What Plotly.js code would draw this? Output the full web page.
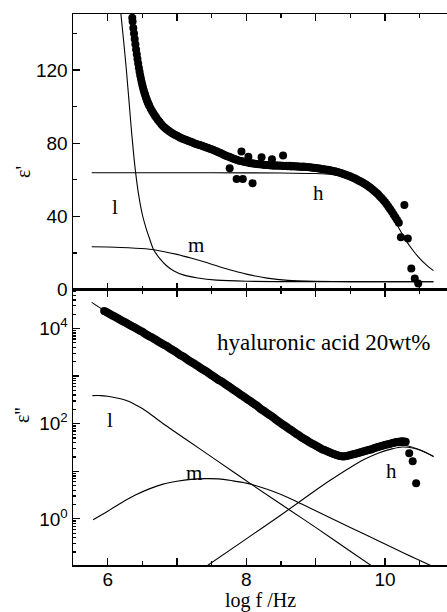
<!DOCTYPE html>
<html>
<head>
<meta charset="utf-8">
<script src="https://cdn.plot.ly/plotly-3.0.1.min.js"></script>
<style>
  html, body { margin: 0; padding: 0; background: #fff; }
  #chart { width: 447px; height: 612px; }
</style>
</head>
<body>
<div id="chart"></div>
<script>
// ---------- top panel: epsilon' measured ----------
const epsRealX = [
  6.355, 6.36, 6.37, 6.38, 6.39, 6.40, 6.41, 6.42, 6.43, 6.44,
  6.45, 6.46, 6.47, 6.48, 6.49, 6.50, 6.51, 6.52, 6.53, 6.54,
  6.55, 6.56, 6.57, 6.58, 6.59, 6.60, 6.62, 6.64, 6.66, 6.68,
  6.70, 6.725, 6.75, 6.775, 6.80, 6.825, 6.85, 6.875, 6.90, 6.925,
  6.95, 6.975, 7.00, 7.025, 7.05, 7.075, 7.10, 7.125, 7.15, 7.175,
  7.20, 7.225, 7.25, 7.275, 7.30, 7.325, 7.35, 7.375, 7.40, 7.425,
  7.45, 7.475, 7.50, 7.525, 7.55, 7.575, 7.60, 7.625, 7.65, 7.675,
  7.70, 7.725, 7.75, 7.775, 7.80, 7.825, 7.85, 7.875, 7.90, 7.925,
  7.95, 7.975, 8.00, 8.025, 8.05, 8.075, 8.10, 8.125, 8.15, 8.175,
  8.20, 8.225, 8.25, 8.275, 8.30, 8.325, 8.35, 8.375, 8.40, 8.425,
  8.45, 8.475, 8.50, 8.525, 8.55, 8.575, 8.60, 8.625, 8.65, 8.675,
  8.70, 8.725, 8.75, 8.775, 8.80, 8.825, 8.85, 8.875, 8.90, 8.925,
  8.95, 8.975, 9.00, 9.025, 9.05, 9.075, 9.10, 9.125, 9.15, 9.175,
  9.20, 9.225, 9.25, 9.275, 9.30, 9.325, 9.35, 9.375, 9.40, 9.425,
  9.45, 9.475, 9.50, 9.525, 9.55, 9.575, 9.60, 9.625, 9.65, 9.675,
  9.70, 9.725, 9.75, 9.775, 9.80, 9.825, 9.85, 9.875, 9.90, 9.925,
  9.95, 9.975, 10.00, 10.025, 10.05, 10.075, 10.10, 10.125, 10.15, 10.175, 10.20
];
const epsRealY = [
  148.5, 146.5, 143, 140, 137, 134, 131.2, 128.6, 126, 123.5,
  121.2, 119, 117, 115.2, 113.4, 111.8, 110.3, 108.9, 107.6, 106.4,
  105.2, 104.1, 103.1, 102.2, 101.3, 100.5, 99, 97.6, 96.3, 95.1,
  94, 92.7, 91.5, 90.4, 89.3, 88.4, 87.6, 86.9, 86.2, 85.6,
  85, 84.5, 84, 83.5, 83, 82.6, 82.2, 81.8, 81.4, 81,
  80.7, 80.3, 80, 79.6, 79.3, 79, 78.7, 78.3, 78, 77.6,
  77.3, 77, 76.6, 76.2, 75.8, 75.4, 75, 74.6, 74.2, 73.7,
  73.3, 72.9, 72.5, 72.1, 71.7, 71.3, 71, 70.7, 70.4, 70.2,
  70, 69.8, 69.6, 69.4, 69.2, 69, 68.9, 68.7, 68.6, 68.5,
  68.4, 68.3, 68.2, 68.1, 68, 68.1, 67.8, 67.9, 67.7, 67.9,
  67.6, 67.8, 67.6, 67.7, 67.5, 67.7, 67.4, 67.6, 67.3, 67.5,
  67.2, 67.4, 67.1, 67.3, 67, 67.2, 66.9, 67, 66.8, 66.8,
  66.6, 66.6, 66.4, 66.3, 66.1, 66, 65.8, 65.7, 65.5, 65.4,
  65.2, 65, 64.8, 64.6, 64.3, 64.1, 63.8, 63.5, 63.2, 62.9,
  62.5, 62.2, 61.8, 61.4, 61, 60.5, 60, 59.5, 59, 58.5,
  58, 57.4, 56.7, 56, 55.3, 54.5, 53.7, 52.9, 52, 51,
  50, 48.9, 47.8, 46.6, 45.3, 43.9, 42.5, 41, 39.5, 38, 36.5
];
// scattered points (top)
const epsRealOutX = [7.76, 7.86, 7.93, 7.95, 8.03, 8.09, 8.22, 8.37, 8.53, 10.23, 10.28, 10.33, 10.38, 10.43, 10.48];
const epsRealOutY = [66.3, 60.4, 75.4, 60.4, 72.6, 58.1, 72.3, 71.2, 73.2, 28.5, 46.2, 27.9, 11.5, 6, 3.3];

// ---------- top panel: fitted components ----------
const fitRealHX = [5.77, 6.5, 7.5, 8.5, 9.0, 9.25, 9.5, 9.75, 9.9, 10.0, 10.1, 10.2, 10.3, 10.4, 10.5, 10.6, 10.7];
const fitRealHY = [63.8, 63.8, 63.8, 63.7, 63.4, 62.8, 61.2, 57.3, 52.3, 47.5, 40.8, 33.6, 27, 21.6, 17, 13.3, 10.3];
const fitRealLX = [6.19, 6.23, 6.27, 6.31, 6.35, 6.40, 6.45, 6.50, 6.55, 6.60, 6.66, 6.75, 6.85, 6.95, 7.09, 7.3, 7.57, 8.0, 9.0, 10.7];
const fitRealLY = [151, 136, 120, 102, 84, 65, 51, 41, 34, 28.3, 22, 17, 13, 10.3, 8, 6.3, 5.1, 4.5, 4.3, 4.2];
const fitRealMX = [5.77, 6.0, 6.3, 6.6, 6.8, 7.0, 7.2, 7.4, 7.6, 7.8, 8.0, 8.3, 8.6, 9.0, 9.5, 10.0, 10.7];
const fitRealMY = [23.4, 23.2, 22.8, 22, 20.8, 19.2, 17.2, 15, 12.6, 10.4, 8.4, 6.2, 5.0, 4.5, 4.3, 4.2, 4.2];

const epsLossX = [
  5.950, 5.975, 6.000, 6.025, 6.050, 6.075, 6.100, 6.125, 6.150, 6.175,
  6.200, 6.225, 6.250, 6.275, 6.300, 6.325, 6.350, 6.375, 6.400, 6.425,
  6.450, 6.475, 6.500, 6.525, 6.550, 6.575, 6.600, 6.625, 6.650, 6.675,
  6.700, 6.725, 6.750, 6.775, 6.800, 6.825, 6.850, 6.875, 6.900, 6.925,
  6.950, 6.975, 7.000, 7.025, 7.050, 7.075, 7.100, 7.125, 7.150, 7.175,
  7.200, 7.225, 7.250, 7.275, 7.300, 7.325, 7.350, 7.375, 7.400, 7.425,
  7.450, 7.475, 7.500, 7.525, 7.550, 7.575, 7.600, 7.625, 7.650, 7.675,
  7.700, 7.725, 7.750, 7.775, 7.800, 7.825, 7.850, 7.875, 7.900, 7.925,
  7.950, 7.975, 8.000, 8.025, 8.050, 8.075, 8.100, 8.125, 8.150, 8.175,
  8.200, 8.225, 8.250, 8.275, 8.300, 8.325, 8.350, 8.375, 8.400, 8.425,
  8.450, 8.475, 8.500, 8.525, 8.550, 8.575, 8.600, 8.625, 8.650, 8.675,
  8.700, 8.725, 8.750, 8.775, 8.800, 8.825, 8.850, 8.875, 8.900, 8.925,
  8.950, 8.975, 9.000, 9.025, 9.050, 9.075, 9.100, 9.125, 9.150, 9.175,
  9.200, 9.225, 9.250, 9.275, 9.300, 9.325, 9.350, 9.375, 9.400, 9.425,
  9.450, 9.475, 9.500, 9.525, 9.550, 9.575, 9.600, 9.625, 9.650, 9.675,
  9.700, 9.725, 9.750, 9.775, 9.800, 9.825, 9.850, 9.875, 9.900, 9.925,
  9.950, 9.975, 10.000, 10.025, 10.050, 10.075, 10.100, 10.125, 10.150, 10.175,
  10.200, 10.225, 10.250, 10.275, 10.300
];
const epsLossLog = [
  4.37, 4.35, 4.33, 4.31, 4.29, 4.27, 4.25, 4.23, 4.21, 4.19,
  4.17, 4.15, 4.13, 4.11, 4.09, 4.07, 4.05, 4.03, 4.01, 3.99,
  3.97, 3.95, 3.93, 3.905, 3.88, 3.86, 3.84, 3.82, 3.80, 3.78,
  3.76, 3.735, 3.71, 3.69, 3.67, 3.65, 3.63, 3.605, 3.58, 3.56,
  3.54, 3.515, 3.49, 3.465, 3.44, 3.42, 3.40, 3.375, 3.35, 3.325,
  3.30, 3.28, 3.26, 3.235, 3.21, 3.185, 3.16, 3.14, 3.12, 3.095,
  3.07, 3.045, 3.02, 2.995, 2.97, 2.945, 2.92, 2.90, 2.88, 2.855,
  2.83, 2.805, 2.78, 2.755, 2.73, 2.705, 2.68, 2.655, 2.63, 2.605,
  2.58, 2.555, 2.53, 2.505, 2.48, 2.455, 2.43, 2.405, 2.38, 2.35,
  2.32, 2.295, 2.27, 2.245, 2.22, 2.195, 2.17, 2.145, 2.12, 2.09,
  2.06, 2.035, 2.01, 1.985, 1.96, 1.935, 1.91, 1.885, 1.86, 1.835,
  1.81, 1.785, 1.76, 1.735, 1.71, 1.69, 1.67, 1.645, 1.62, 1.60,
  1.58, 1.56, 1.54, 1.52, 1.50, 1.48, 1.46, 1.445, 1.43, 1.415,
  1.40, 1.385, 1.37, 1.355, 1.34, 1.33, 1.32, 1.315, 1.31, 1.315,
  1.32, 1.33, 1.34, 1.35, 1.36, 1.37, 1.38, 1.39, 1.40, 1.41,
  1.42, 1.43, 1.44, 1.45, 1.46, 1.475, 1.49, 1.50, 1.51, 1.52,
  1.53, 1.54, 1.55, 1.56, 1.57, 1.58, 1.59, 1.60, 1.61, 1.615,
  1.62, 1.625, 1.63, 1.625, 1.62
];
const epsLossOutX = [10.35, 10.40, 10.45];
const epsLossOutLog = [1.38, 1.21, 0.75];

// ---------- bottom panel: fitted curves (log10 values) ----------
const fitLossTotX = [5.77, 5.96, 6.5, 7.0, 7.5, 8.0, 8.5, 9.0, 9.4, 9.8, 10.1, 10.3, 10.5, 10.7];
const fitLossTotLog = [4.55, 4.37, 3.92, 3.48, 3.01, 2.52, 2.0, 1.52, 1.31, 1.44, 1.53, 1.54, 1.45, 1.31];
const fitLossHX = [7.40, 8.0, 8.5, 9.0, 9.21, 9.5, 9.69, 9.9, 10.1, 10.25, 10.4, 10.55, 10.7];
const fitLossHLog = [-1.02, -0.42, 0.08, 0.60, 0.81, 1.08, 1.24, 1.38, 1.47, 1.51, 1.49, 1.42, 1.31];
const fitLossLX = [5.78, 5.9, 6.0, 6.1, 6.2, 6.3, 6.4, 6.5, 6.6, 6.7, 6.85, 7.0, 7.33, 7.81, 8.08, 8.63, 9.0, 9.5, 9.85];
const fitLossLLog = [2.59, 2.59, 2.575, 2.55, 2.52, 2.47, 2.40, 2.32, 2.22, 2.11, 1.95, 1.80, 1.47, 0.99, 0.72, 0.18, -0.18, -0.68, -1.03];
const fitLossMX = [5.79, 6.0, 6.2, 6.4, 6.6, 6.8, 7.0, 7.2, 7.4, 7.6, 7.8, 8.0, 8.2, 8.4, 8.6, 8.8, 9.0, 9.5, 10.0, 10.3, 10.72];
const fitLossMLog = [-0.02, 0.16, 0.34, 0.50, 0.63, 0.73, 0.79, 0.83, 0.845, 0.84, 0.80, 0.75, 0.67, 0.57, 0.45, 0.31, 0.17, -0.18, -0.53, -0.74, -1.02];

// ---------- tick definitions ----------
const xMajorStep = 1;          // ticks at 6,7,8,9,10
const xLabelStep = 2;          // labels at 6,8,10
const xMinorStep = 0.5;
const yLossLabelVals = [1, 100, 10000];
const yLossLabelText = ['10<sup>0</sup>', '10<sup>2</sup>', '10<sup>4</sup>'];
const yLossMidVals = [10, 1000];
const yRealTickVals = [0, 40, 80, 120];
const yRealMinor = [20, 60, 100, 140];

const unlog = a => a.map(v => Math.pow(10, v));

const SERIF = 'Liberation Serif, Times New Roman, serif';
const SANS = 'Liberation Sans, Arial, sans-serif';

const dot = { symbol: 'circle', size: 8, color: '#000' };
const thin = { color: '#000', width: 1.1, shape: 'spline', smoothing: 0.8 };

const traces = [
  // top panel
  { x: fitRealHX, y: fitRealHY, xaxis: 'x2', yaxis: 'y2', mode: 'lines', line: thin },
  { x: fitRealLX, y: fitRealLY, xaxis: 'x2', yaxis: 'y2', mode: 'lines', line: thin },
  { x: fitRealMX, y: fitRealMY, xaxis: 'x2', yaxis: 'y2', mode: 'lines', line: thin },
  { x: epsRealX, y: epsRealY, xaxis: 'x2', yaxis: 'y2', mode: 'markers', marker: dot },
  { x: epsRealOutX, y: epsRealOutY, xaxis: 'x2', yaxis: 'y2', mode: 'markers', marker: dot },
  // bottom panel
  { x: fitLossTotX, y: unlog(fitLossTotLog), xaxis: 'x', yaxis: 'y', mode: 'lines', line: thin },
  { x: fitLossHX, y: unlog(fitLossHLog), xaxis: 'x', yaxis: 'y', mode: 'lines', line: thin },
  { x: fitLossLX, y: unlog(fitLossLLog), xaxis: 'x', yaxis: 'y', mode: 'lines', line: thin },
  { x: fitLossMX, y: unlog(fitLossMLog), xaxis: 'x', yaxis: 'y', mode: 'lines', line: thin },
  { x: epsLossX, y: unlog(epsLossLog), xaxis: 'x', yaxis: 'y', mode: 'markers', marker: dot },
  { x: epsLossOutX, y: unlog(epsLossOutLog), xaxis: 'x', yaxis: 'y', mode: 'markers', marker: dot },
  // carrier for the extra decade ticks (10^1, 10^3)
  { x: [], y: [], xaxis: 'x', yaxis: 'y3', mode: 'markers' }
];

const axisCommon = {
  showline: true, linecolor: '#000', linewidth: 1.5,
  ticks: 'inside', ticklen: 7, tickwidth: 1.3, tickcolor: '#000',
  showgrid: false, zeroline: false
};
const xMinor = { dtick: xMinorStep, tick0: 5.5, ticks: 'inside', ticklen: 4, tickcolor: '#000', showgrid: false };

const layout = {
  width: 447, height: 612,
  margin: { l: 73, r: 0, t: 14, b: 47 },
  paper_bgcolor: '#fff', plot_bgcolor: '#fff',
  showlegend: false,
  font: { family: SANS, size: 19, color: '#000' },
  xaxis: Object.assign({}, axisCommon, {
    domain: [0, 1], anchor: 'y', range: [5.5, 10.895],
    tickmode: 'linear', tick0: 6, dtick: xMajorStep, ticklabelstep: xLabelStep, mirror: 'ticks',
    ticklabelstandoff: -3,
    minor: xMinor
  }),
  xaxis2: Object.assign({}, axisCommon, {
    domain: [0, 1], anchor: 'y2', range: [5.5, 10.895],
    tickmode: 'linear', tick0: 6, dtick: xMajorStep, showticklabels: false, mirror: 'ticks',
    minor: xMinor
  }),
  yaxis: Object.assign({}, axisCommon, {
    domain: [0, 0.5], anchor: 'x', type: 'log', range: [-0.97, 4.82],
    tickmode: 'array', tickvals: yLossLabelVals, ticktext: yLossLabelText,
    minor: { dtick: 'D1', ticks: 'inside', ticklen: 3, tickcolor: '#000', showgrid: false }
  }),
  yaxis3: {
    overlaying: 'y', anchor: 'x', side: 'left', type: 'log', range: [-0.97, 4.82],
    tickmode: 'array', tickvals: yLossMidVals, showticklabels: false,
    ticks: 'inside', ticklen: 6, tickwidth: 1.3, tickcolor: '#000',
    showline: false, showgrid: false, zeroline: false
  },
  yaxis2: Object.assign({}, axisCommon, {
    domain: [0.5, 1], anchor: 'x2', range: [0, 150.6],
    tickmode: 'array', tickvals: yRealTickVals,
    minor: { tickmode: 'array', tickvals: yRealMinor, ticks: 'inside', ticklen: 4, tickcolor: '#000', showgrid: false }
  }),
  annotations: [
    // axis titles, placed as in the reference
    { xref: 'paper', yref: 'paper', x: -0.134, y: 0.713, xanchor: 'center', yanchor: 'middle', text: "ε'", textangle: -90, showarrow: false, font: { family: SERIF, size: 20 } },
    { xref: 'paper', yref: 'paper', x: -0.137, y: 0.272, xanchor: 'center', yanchor: 'middle', text: "ε''", textangle: -90, showarrow: false, font: { family: SERIF, size: 20 } },
    { xref: 'paper', yref: 'paper', x: 0.5, y: -0.0645, xanchor: 'center', yanchor: 'middle', text: 'log f /Hz', showarrow: false, font: { family: SERIF, size: 20 } },
    // curve labels
    { xref: 'x2', yref: 'y2', x: 6.1, y: 45.3, text: 'l', showarrow: false, font: { family: SERIF, size: 21 } },
    { xref: 'x2', yref: 'y2', x: 7.28, y: 24.3, text: 'm', showarrow: false, font: { family: SERIF, size: 21 } },
    { xref: 'x2', yref: 'y2', x: 9.04, y: 52.6, text: 'h', showarrow: false, font: { family: SERIF, size: 21 } },
    { xref: 'x', yref: 'y', x: 6.03, y: 2.08, text: 'l', showarrow: false, font: { family: SERIF, size: 21 } },
    { xref: 'x', yref: 'y', x: 7.24, y: 0.97, text: 'm', showarrow: false, font: { family: SERIF, size: 21 } },
    { xref: 'x', yref: 'y', x: 10.1, y: 1.0, text: 'h', showarrow: false, font: { family: SERIF, size: 21 } },
    { xref: 'x', yref: 'y', x: 9.12, y: 3.7, text: 'hyaluronic acid 20wt%', showarrow: false, font: { family: SERIF, size: 23 } }
  ]
};

Plotly.newPlot('chart', traces, layout, { displayModeBar: false, staticPlot: true });
</script>
</body>
</html>
